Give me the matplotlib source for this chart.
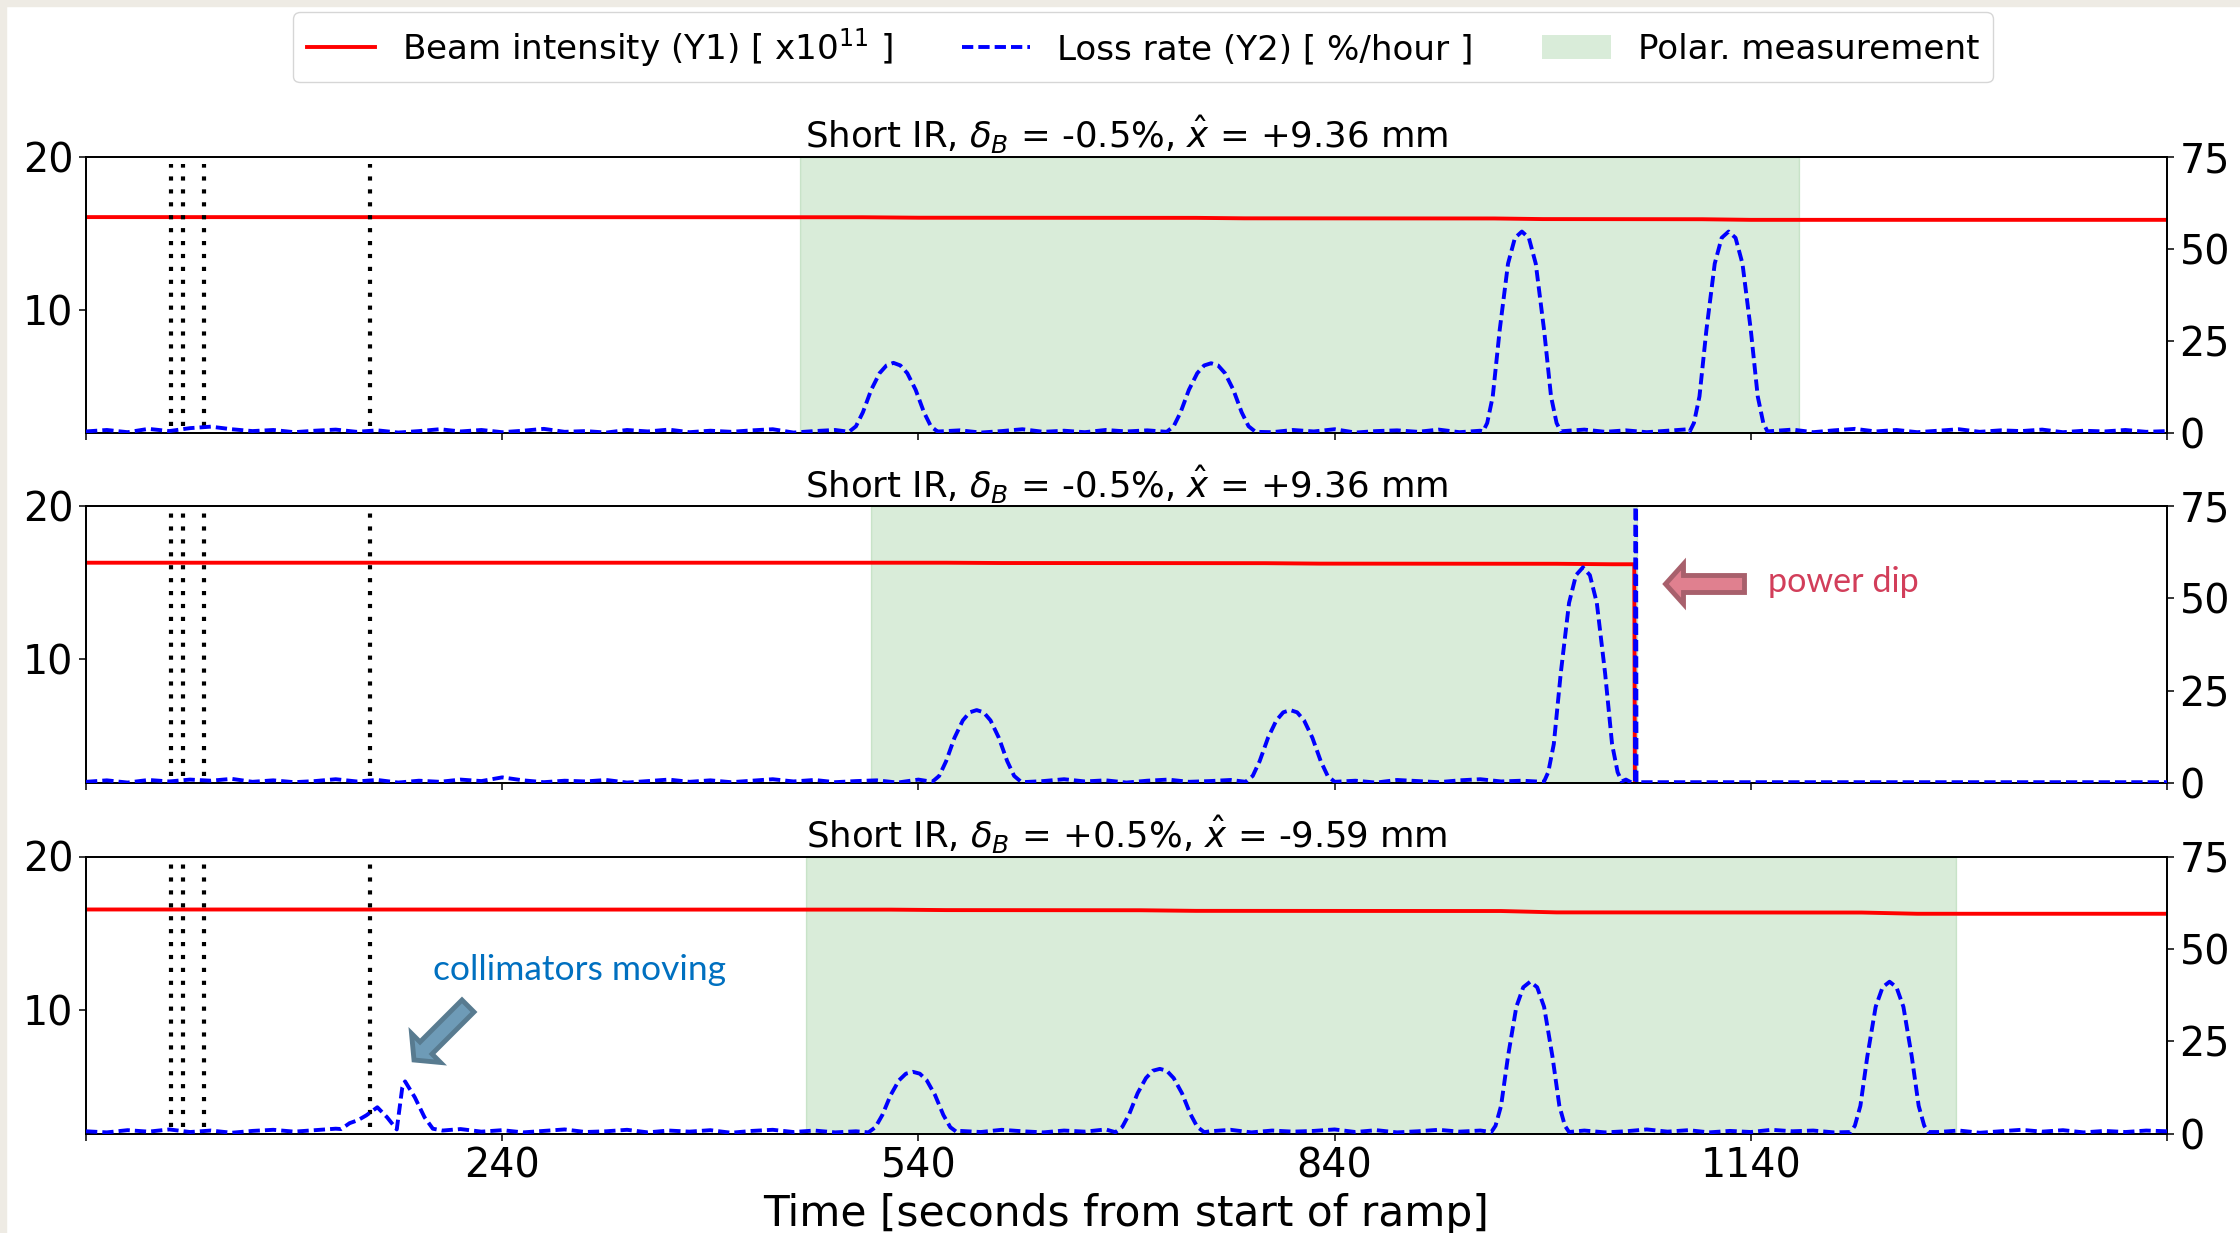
import numpy as np
import matplotlib
matplotlib.use("Agg")
import matplotlib.pyplot as plt
from matplotlib.patches import Rectangle, FancyArrow, Patch
from matplotlib.lines import Line2D

# Time axis and markers
t_grid = np.arange(-60, 1441, 15)
marker_times = [1, 10, 25, 145]
x_ticks = [-60, 240, 540, 840, 1140, 1440]
x_tick_labels = ['', '240', '540', '840', '1140', '']

titles = [r'Short IR, $\delta_B$ = -0.5%, $\hat{x}$ = +9.36 mm',
          r'Short IR, $\delta_B$ = -0.5%, $\hat{x}$ = +9.36 mm',
          r'Short IR, $\delta_B$ = +0.5%, $\hat{x}$ = -9.59 mm']

# Polarimeter measurement windows
polar_a = (455, 1175)
polar_b = (506, 1058)
polar_c = (459, 1288)

# Beam intensity [x1e11]
beam_t_a = [-60, 500, 540, 740, 775, 955, 990, 1105, 1140, 1440]
beam_v_a = [16.05, 16.04, 16.01, 16.0, 15.97, 15.96, 15.92, 15.91, 15.87, 15.87]
beam_t_b = [-60, 560, 600, 790, 830, 1000, 1040, 1056, 1056.5, 1440]
beam_v_b = [16.3, 16.3, 16.28, 16.27, 16.24, 16.23, 16.2, 16.2, 0, 0]
beam_t_c = [-60, 520, 560, 700, 740, 960, 1000, 1220, 1260, 1440]
beam_v_c = [16.54, 16.53, 16.5, 16.49, 16.45, 16.44, 16.35, 16.34, 16.26, 16.26]

# Loss rate baseline [%/hour], one value every 15 s
noise_a = [0.5, 0.9, 0.3, 1.2, 0.6, 1.4, 1.8, 1.1, 0.6, 0.9, 0.3, 0.7, 1.0, 0.4,
           0.8, 0.2, 0.6, 1.1, 0.5, 0.9, 0.3, 0.7, 1.2, 0.4, 0.6, 0.2, 0.9, 0.5,
           1.0, 0.3, 0.7, 0.4, 0.8, 1.1, 0.2, 0.6, 0.9, 0.4, 0.7, 0.3, 1.0, 0.5,
           0.8, 0.2, 0.6, 1.1, 0.4, 0.7, 0.3, 0.9, 0.5, 0.8, 0.2, 0.6, 1.0, 0.4,
           0.7, 0.3, 0.9, 0.5, 1.1, 0.2, 0.6, 0.8, 0.4, 1.0, 0.3, 0.7, 0.5, 0.9,
           0.2, 0.6, 1.0, 0.4, 0.8, 0.3, 0.7, 1.1, 0.5, 0.9, 0.4, 0.6, 1.0, 0.3,
           0.8, 1.2, 0.5, 0.9, 0.3, 0.7, 1.1, 0.4, 0.8, 0.6, 1.0, 0.3, 0.7, 0.5,
           0.9, 0.4, 0.6]
noise_b = [0.4, 0.8, 0.2, 0.9, 0.5, 1.0, 0.7, 1.2, 0.4, 0.8, 0.3, 0.6, 1.1, 0.5,
           0.9, 0.2, 0.7, 0.4, 1.0, 0.6, 1.6, 0.8, 0.3, 0.7, 0.5, 0.9, 0.2, 0.6,
           1.0, 0.4, 0.8, 0.3, 0.7, 1.1, 0.5, 0.9, 0.3, 0.6, 0.8, 0.2, 1.0, 0.5,
           0.7, 0.4, 0.9, 0.3, 0.6, 1.1, 0.5, 0.8, 0.2, 0.7, 1.0, 0.4, 0.6, 0.9,
           0.3, 0.8, 0.5, 1.0, 0.4, 0.7, 0.2, 0.9, 0.6, 0.3, 0.8, 1.1, 0.5, 0.7,
           0.4, 0.9, 0.2, 0.6, 1.0, 0.5, 0.8, 0.3, 0.7, 0.4, 1.0, 0.6, 0.3, 0.8,
           0.5, 0.9, 0.3, 0.7, 0.4, 0.8, 0.6, 0.3, 0.7, 0.5, 0.9, 0.4, 0.6, 0.3,
           0.8, 0.5, 0.7]
noise_c = [0.6, 0.3, 0.9, 0.5, 1.1, 0.4, 0.8, 0.2, 0.7, 1.0, 0.5, 0.9, 1.3, 1.8,
           0.6, 1.0, 0.4, 0.8, 1.2, 0.5, 0.9, 0.3, 0.7, 1.1, 0.4, 0.6, 1.0, 0.3,
           0.8, 0.5, 0.9, 0.2, 0.7, 1.0, 0.4, 0.8, 0.3, 0.6, 1.1, 0.5, 0.9, 0.2,
           0.7, 0.4, 1.0, 0.6, 0.3, 0.8, 0.5, 1.1, 0.4, 0.7, 0.2, 0.9, 0.6, 1.0,
           0.3, 0.8, 0.5, 0.7, 1.1, 0.4, 0.9, 0.3, 0.6, 1.0, 0.5, 0.8, 0.2, 0.7,
           1.0, 0.4, 0.8, 0.3, 0.6, 1.1, 0.5, 0.9, 0.3, 0.7, 0.4, 1.0, 0.6, 0.8,
           0.3, 0.9, 0.5, 0.7, 1.1, 0.4, 0.8, 0.2, 0.6, 1.0, 0.5, 0.9, 0.3, 0.7,
           0.4, 0.8, 0.6]

# Loss rate around the scans, (times, values) per event
events_a = [
    ([490, 495, 500, 506, 512, 517, 522, 527, 532, 538, 544, 549, 554],
     [0.4, 1.9, 5.7, 11.8, 16.3, 18.4, 19.1, 18.4, 16.3, 11.8, 5.7, 1.9, 0.4]),
    ([719, 724, 729, 735, 741, 746, 751, 756, 761, 767, 773, 778, 783],
     [0.4, 1.9, 5.7, 11.8, 16.3, 18.4, 19.0, 18.4, 16.3, 11.8, 5.7, 1.9, 0.4]),
    ([947, 950, 954, 959, 965, 970, 975, 980, 985, 991, 996, 1000, 1003],
     [0.5, 2.8, 10, 28, 46, 53, 54.7, 53, 46, 28, 10, 2.8, 0.5]),
    ([1096, 1099, 1103, 1108, 1114, 1119, 1124, 1129, 1134, 1140, 1145, 1149, 1152],
     [0.5, 2.8, 10, 28, 46, 53, 54.7, 53, 46, 28, 10, 2.8, 0.5]),
]
events_b = [
    ([550, 555, 560, 566, 572, 577, 582, 587, 592, 598, 604, 609, 614],
     [0.4, 2, 6, 12.3, 17, 19.2, 19.8, 19.2, 17, 12.3, 6, 2, 0.4]),
    ([776, 781, 786, 792, 798, 803, 808, 813, 818, 824, 830, 835, 840],
     [0.4, 2, 6, 12.3, 17, 19.2, 19.8, 19.2, 17, 12.3, 6, 2, 0.4]),
    ([991, 994, 998, 1003, 1009, 1014, 1019, 1024, 1029, 1035, 1040, 1044, 1047],
     [0.5, 3, 10.6, 29.7, 48.8, 56.3, 58.4, 56.3, 48.8, 29.7, 10.6, 3, 0.5]),
    ([1051, 1054, 1056.5, 1057, 1057.6, 1440],
     [0.8, 0.2, 0.3, 150, 0.3, 0.3]),
]
events_c = [
    ([124, 130, 136, 142, 150, 157, 164, 168, 170, 177, 184, 190, 197],
     [1.2, 2.8, 3.6, 4.9, 7.1, 4.4, 1.1, 12.5, 14.1, 9.8, 4.4, 1.3, 0.8]),
    ([504, 509, 514, 520, 526, 531, 536, 541, 546, 552, 558, 563, 568],
     [0.3, 1.7, 5, 10.4, 14.4, 16.2, 16.7, 16.2, 14.4, 10.4, 5, 1.7, 0.3]),
    ([682, 687, 692, 698, 704, 709, 714, 719, 724, 730, 736, 741, 746],
     [0.35, 1.8, 5.3, 10.9, 15, 17, 17.5, 17, 15, 10.9, 5.3, 1.8, 0.35]),
    ([953, 956, 960, 965, 971, 976, 981, 986, 991, 997, 1002, 1006, 1009],
     [0.4, 2.1, 7.5, 20.9, 34.3, 39.6, 41.1, 39.6, 34.3, 20.9, 7.5, 2.1, 0.4]),
    ([1212, 1215, 1219, 1224, 1230, 1235, 1240, 1245, 1250, 1256, 1261, 1265, 1268],
     [0.4, 2.1, 7.5, 20.9, 34.3, 39.6, 41.1, 39.6, 34.3, 20.9, 7.5, 2.1, 0.4]),
]


def loss_curve(noise, events):
    # baseline samples outside the event windows, plus the event samples
    t = np.asarray(t_grid, dtype=float)
    v = np.asarray(noise, dtype=float)
    keep = np.ones(len(t), dtype=bool)
    for et, ev in events:
        keep &= ~((t >= min(et)) & (t <= max(et)))
    t_all = np.concatenate([t[keep]] + [np.asarray(et, float) for et, ev in events])
    v_all = np.concatenate([v[keep]] + [np.asarray(ev, float) for et, ev in events])
    order = np.argsort(t_all, kind='stable')
    return t_all[order], v_all[order]


plt.rcParams['font.family'] = 'DejaVu Sans'
fig = plt.figure(figsize=(22.4, 12.33), dpi=100)

# slide border
fig.patches.append(Rectangle((0, 0), 6 / 2240, 1, transform=fig.transFigure,
                             color='#EEEBE4', zorder=0))
fig.patches.append(Rectangle((0, 1 - 6 / 1233), 1, 6 / 1233, transform=fig.transFigure,
                             color='#EEEBE4', zorder=0))

left, width = 86 / 2240, 2081 / 2240
rects = [(left, 1 - 433.3 / 1233, width, 276.6 / 1233),
         (left, 1 - 783.3 / 1233, width, 277.3 / 1233),
         (left, 1 - 1133.5 / 1233, width, 277.0 / 1233)]

panels = [(beam_t_a, beam_v_a, noise_a, events_a, polar_a),
          (beam_t_b, beam_v_b, noise_b, events_b, polar_b),
          (beam_t_c, beam_v_c, noise_c, events_c, polar_c)]

red_lw = 2.8
blue_lw = 2.8
blue_dash = (0, (2.9, 1.3))
tick_fs = 28.5
for i, (rect, (bt, bv, noise, events, polar)) in enumerate(zip(rects, panels)):
    ax = fig.add_axes(rect)
    ax2 = ax.twinx()
    ax.axvspan(polar[0], polar[1], color='green', alpha=0.15, zorder=0)
    ax.plot(bt, bv, color='red', lw=red_lw, zorder=2)
    for mt in marker_times:
        ax.axvline(mt, ymin=0.025, ymax=0.975, color='black', lw=3.0,
                   linestyle=(0, (1, 2.1)), zorder=3)
    lt, lv = loss_curve(noise, events)
    ax2.plot(lt, lv, color='blue', lw=blue_lw, linestyle=blue_dash, zorder=4)

    ax.set_xlim(-60, 1440)
    ax.set_ylim(1.91, 20)
    ax.set_yticks([10, 20])
    ax2.set_ylim(0, 75)
    ax2.set_yticks([0, 25, 50, 75])
    ax.set_xticks(x_ticks)
    if i == 2:
        ax.set_xticklabels(x_tick_labels)
        ax.set_xlabel('Time [seconds from start of ramp]', fontsize=30.4, labelpad=5)
    else:
        ax.set_xticklabels([])
    for a in (ax, ax2):
        a.tick_params(labelsize=tick_fs, length=5, width=1.1, pad=4)
        for s in a.spines.values():
            s.set_linewidth(1.3)
    ax.set_title(titles[i], fontsize=25.6, pad=6)

# legend across the top
handles = [Line2D([], [], color='red', lw=red_lw),
           Line2D([], [], color='blue', lw=blue_lw, linestyle=blue_dash),
           Patch(facecolor='green', alpha=0.15, edgecolor='none')]
labels = [r'Beam intensity (Y1) [ x10$^{11}$ ]', 'Loss rate (Y2) [ %/hour ]',
          'Polar. measurement']
fig.legend(handles, labels, loc='upper center', bbox_to_anchor=(0.5103, 0.990),
           ncol=3, fontsize=24.6, borderaxespad=0, frameon=True)

# annotations, positioned in inches from the lower-left corner
inch = fig.dpi_scale_trans
fig.patches.append(FancyArrow(17.445, 6.49, -0.79, 0, width=0.17, head_width=0.40,
                              head_length=0.18, length_includes_head=True,
                              facecolor='#E0808F', edgecolor='#A8606C', lw=3.5,
                              transform=inch, zorder=10))
fig.text(17.68, 6.41, 'power dip', transform=inch, fontsize=24.6, color='#D23E5A',
         family=['Lato', 'DejaVu Sans'], va='baseline', ha='left')

fig.patches.append(FancyArrow(4.68, 2.27, -0.54, -0.54, width=0.17, head_width=0.41,
                              head_length=0.17, length_includes_head=True,
                              facecolor='#6E9BB7', edgecolor='#587B90', lw=3.5,
                              transform=inch, zorder=10))
fig.text(4.33, 2.53, 'collimators moving', transform=inch, fontsize=25.5,
         color='#0070C0', family=['Lato', 'DejaVu Sans'], va='baseline', ha='left')

fig.savefig('out.png', dpi=100)
